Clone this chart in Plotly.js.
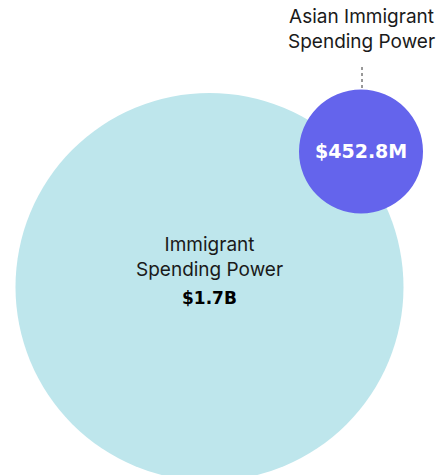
<!DOCTYPE html>
<html>
<head>
<meta charset="utf-8">
<script src="https://cdn.plot.ly/plotly-3.0.1.min.js"></script>
<style>html,body{margin:0;padding:0;background:#fff;}#chart{width:447px;height:475px;}</style>
</head>
<body>
<div id="chart"></div>
<script>
// Data
var categories = ["Immigrant Spending Power", "Asian Immigrant Spending Power"];
var categoryLines = [["Immigrant", "Spending Power"], ["Asian Immigrant", "Spending Power"]];
var values = [1.7e9, 452.8e6];
var valueLabels = ["$1.7B", "$452.8M"];

// Layout (pixel-space geometry, not data)
var W = 447, H = 475;
var circles = [
  {cx: 209.5, cy: 287, r: 194, color: "#BEE6EC"},
  {cx: 361, cy: 151.5, r: 62, color: "#6464EC"}
];
var labelPos = [{x: 209.5, y: 256.5}, {x: 361, y: 28.5}];
var valuePos = [{x: 209.5, y: 298, size: 17, color: "#000"}, {x: 361, y: 151, size: 19, color: "#fff"}];

var shapes = circles.map(function(c){
  return {type: "circle", xref: "x", yref: "y",
    x0: c.cx - c.r, x1: c.cx + c.r, y0: c.cy - c.r, y1: c.cy + c.r,
    fillcolor: c.color, line: {width: 0}, layer: "below"};
});
shapes.push({type: "line", xref: "x", yref: "y", x0: 362, x1: 362, y0: 67, y1: 89,
  line: {color: "#333", width: 1, dash: "dot"}});

var labelFont = {family: "Inter, 'Noto Sans', sans-serif", size: 19, color: "#1a1a1a"};

var annotations = [];
categoryLines.forEach(function(lines, i){
  annotations.push({x: labelPos[i].x, y: labelPos[i].y, text: lines.join("<br>"), font: labelFont});
  annotations.push({x: valuePos[i].x, y: valuePos[i].y, text: "<b>" + valueLabels[i] + "</b>",
    font: {family: "'DejaVu Sans', sans-serif", size: valuePos[i].size, color: valuePos[i].color}});
});
annotations = annotations.map(function(a){
  return Object.assign({xref: "x", yref: "y", showarrow: false, xanchor: "center", yanchor: "middle"}, a);
});

// invisible trace binding values to the circles
var trace = {
  type: "scatter", mode: "markers",
  x: circles.map(function(c){return c.cx;}),
  y: circles.map(function(c){return c.cy;}),
  text: categories, customdata: values,
  marker: {size: 1, opacity: 0},
  hoverinfo: "skip"
};

Plotly.newPlot("chart", [trace], {
  width: W, height: H,
  margin: {l: 0, r: 0, t: 0, b: 0},
  paper_bgcolor: "#fff", plot_bgcolor: "#fff",
  showlegend: false,
  xaxis: {range: [0, W], visible: false, fixedrange: true},
  yaxis: {range: [H, 0], visible: false, fixedrange: true},
  shapes: shapes,
  annotations: annotations
}, {displayModeBar: false, staticPlot: true});
</script>
</body>
</html>
